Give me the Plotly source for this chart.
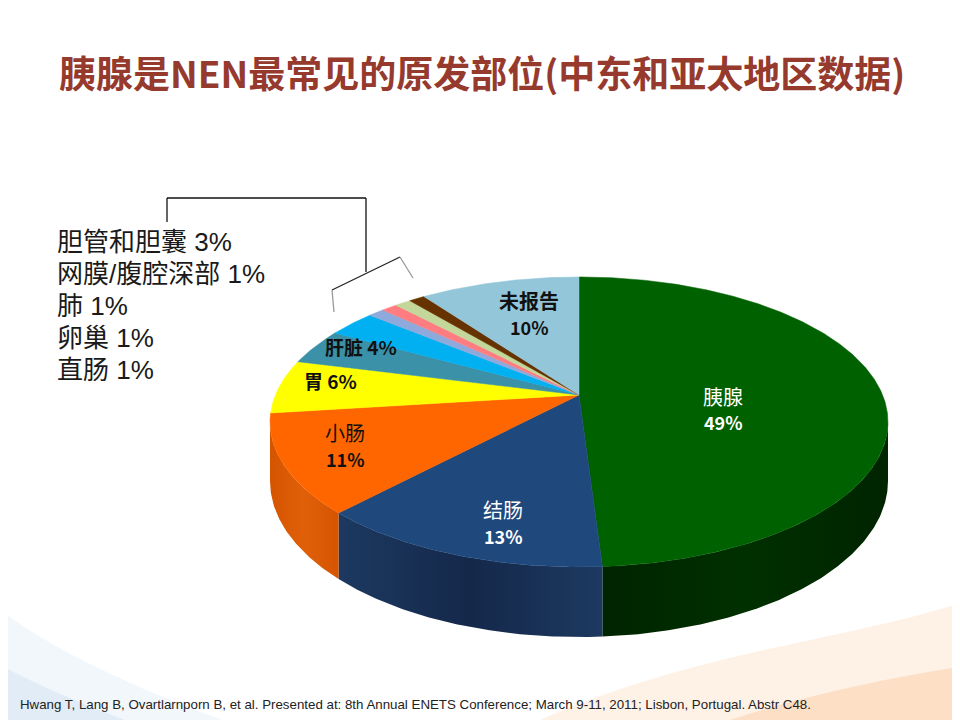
import numpy as np
import plotly.graph_objects as go

# NEN primary sites, Middle East & Asia-Pacific (percent)
sites = ["胰腺", "结肠", "小肠", "胃", "肝脏", "胆管和胆囊", "网膜/腹腔深部", "肺", "卵巢", "直肠", "未报告"]
shares = [49, 13, 11, 6, 4, 3, 1, 1, 1, 1, 10]
top_colors = ["#006100", "#1f497d", "#ff6600", "#ffff00", "#3a91a8", "#00b0f0",
              "#8ea9db", "#ff7c80", "#c4d79b", "#663300", "#93c6d9"]
# wall shading: (edge, middle) tones
side_colors = [("#002400", "#003000"), ("#1d3960", "#14284a"), ("#d45400", "#e0600a"),
               ("#c8c800", "#c8c800"), ("#286a7c", "#286a7c"), ("#0084b4", "#0084b4"),
               ("#6a7fa4", "#6a7fa4"), ("#c05d60", "#c05d60"), ("#939f74", "#939f74"),
               ("#4a2500", "#4a2500"), ("#6e95a3", "#6e95a3")]

# small sites gathered in the bracket callout
callout_sites = ["胆管和胆囊", "网膜/腹腔深部", "肺", "卵巢", "直肠"]

# fake 3D pie: tilted disk with a little perspective
CX, CY = 579, 395
RX, RY = 303.6, 140
PERSP = 0.186
DEPTH = 57
OFF = 8  # page body margin, axes are set up so data units == page pixels


def rim(theta_deg, drop=0.0):
    th = np.radians(theta_deg)
    u, w = np.sin(th), np.cos(th)
    s = 1.0 / (1.0 + PERSP * w)
    return CX + RX * u * s, CY - RY * w * s + DEPTH * s * drop


bounds = np.concatenate([[0], np.cumsum(shares)]) / sum(shares) * 360
vis_lo = np.degrees(np.arccos(-PERSP))
vis_hi = 360 - vis_lo

fig = go.Figure()

# outer walls (only the front half shows)
for name, v, a, b, (c_edge, c_mid) in zip(sites, shares, bounds[:-1], bounds[1:], side_colors):
    lo, hi = max(a, vis_lo), min(b, vis_hi)
    if lo >= hi:
        continue
    th = np.linspace(lo, hi, max(3, int((hi - lo) * 2)))
    xt, yt = rim(th)
    xb, yb = rim(th[::-1], 1.0)
    fig.add_trace(go.Scatter(
        x=np.concatenate([xt, xb]), y=np.concatenate([yt, yb]),
        fill="toself", mode="lines",
        fillgradient=dict(type="horizontal",
                          colorscale=[[0, c_edge], [0.5, c_mid], [1, c_edge]]),
        line=dict(color=c_edge, width=0), hoverinfo="skip", showlegend=False))

# top faces
for name, v, a, b, col in zip(sites, shares, bounds[:-1], bounds[1:], top_colors):
    th = np.linspace(a, b, max(3, int((b - a) * 2)))
    xr, yr = rim(th)
    fig.add_trace(go.Scatter(
        x=np.concatenate([[CX], xr, [CX]]), y=np.concatenate([[CY], yr, [CY]]),
        fill="toself", fillcolor=col, mode="lines",
        line=dict(color=col, width=0.5), name=name,
        text=f"{name} {v}%", hoverinfo="text", showlegend=False))

CJK = "Noto Sans CJK SC, Liberation Sans, sans-serif"


def label(x, y, txt, color, bold=False, size=19):
    fig.add_annotation(x=x, y=y, text=f"<b>{txt}</b>" if bold else txt,
                       showarrow=False, xanchor="center", yanchor="middle",
                       font=dict(family=CJK, size=size, color=color))


share = dict(zip(sites, shares))
label(723, 396, "胰腺", "white", size=20)
label(723, 422, f"{share['胰腺']}%", "white", True, 18)
label(503, 509, "结肠", "white", size=20)
label(503, 536, f"{share['结肠']}%", "white", True, 18)
label(345, 432, "小肠", "#111111", False, 20)
label(345, 459, f"{share['小肠']}%", "#111111", True, 18)
label(330, 380, f"胃 {share['胃']}%", "#111111", True)
label(361, 346, f"肝脏 {share['肝脏']}%", "#111111", True)
label(529, 300, "未报告", "#111111", True, 20)
label(529, 327, f"{share['未报告']}%", "#111111", True, 18)

# callout list on the left
for i, s in enumerate(callout_sites):
    fig.add_annotation(x=55, y=242 + 32 * i, text=f"{s} {share[s]}%", showarrow=False,
                       xanchor="left", yanchor="middle",
                       font=dict(family="Liberation Sans, Noto Sans CJK SC", size=26, color="#1a1a1a"))

# bracket connecting the list to the small slices
for x0, y0, x1, y1, c in [(167, 198, 366, 198, "#111"), (167, 198, 167, 222, "#111"),
                          (366, 198, 366, 272, "#111"), (332, 290, 400, 257, "#222"),
                          (332, 290, 334, 312, "#999"), (400, 257, 413, 278, "#999")]:
    fig.add_shape(type="line", x0=x0, y0=y0, x1=x1, y1=y1, line=dict(color=c, width=1.3))

# soft background swooshes
fig.add_shape(type="path", layer="below", line_width=0, fillcolor="rgba(248,170,100,0.16)",
              path="M 540 720 C 700 650, 850 640, 970 600 L 970 730 L 540 730 Z")
fig.add_shape(type="path", layer="below", line_width=0, fillcolor="rgba(248,160,80,0.22)",
              path="M 700 730 C 800 695, 880 680, 970 665 L 970 730 Z")
fig.add_shape(type="path", layer="below", line_width=0, fillcolor="rgba(160,195,228,0.14)",
              path="M 0 610 C 60 655, 150 695, 250 730 L 0 730 Z")
fig.add_shape(type="path", layer="below", line_width=0, fillcolor="rgba(150,190,225,0.18)",
              path="M 0 665 C 50 692, 100 710, 150 730 L 0 730 Z")

fig.add_annotation(x=482, y=72,
                   text="<b>胰腺是NEN最常见的原发部位(中东和亚太地区数据)</b>", showarrow=False,
                   xanchor="center", yanchor="middle",
                   font=dict(family="Noto Sans CJK SC, Liberation Sans", size=37, color="#963a2e"))
fig.add_annotation(x=18, y=704,
                   text="Hwang T, Lang B, Ovartlarnporn B, et al. Presented at: 8th Annual ENETS "
                        "Conference; March 9-11, 2011; Lisbon, Portugal. Abstr C48.",
                   showarrow=False, xanchor="left", yanchor="middle",
                   font=dict(family="Liberation Sans, Arial", size=13.3, color="#222222"))

fig.update_layout(
    width=960, height=720, autosize=False,
    margin=dict(l=0, r=0, t=0, b=0),
    paper_bgcolor="white", plot_bgcolor="rgba(0,0,0,0)",
    xaxis=dict(range=[OFF, 960 + OFF], visible=False, fixedrange=True),
    yaxis=dict(range=[720 + OFF, OFF], visible=False, fixedrange=True),
)

fig.write_html("out.html")
